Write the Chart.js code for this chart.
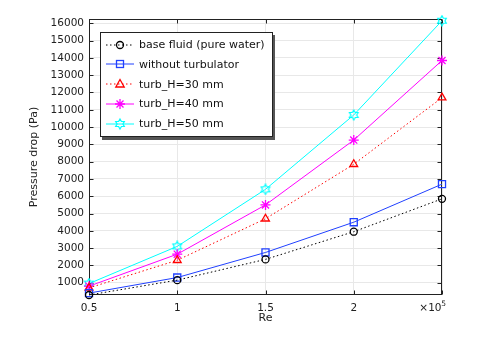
<!DOCTYPE html>
<html><head><meta charset="utf-8">
<script src="https://cdn.jsdelivr.net/npm/chart.js@4/dist/chart.umd.min.js"></script>
<style>
html,body{margin:0;padding:0;background:#fff;}
#wrap{position:relative;width:477px;height:344px;}
canvas{display:block;}
#legend{position:absolute;left:100px;top:32px;width:171px;height:103px;background:#fff;border:1px solid #222;box-shadow:2px 3px 0 #555;font-family:'DejaVu Sans';font-size:11px;color:#111;}
.row{position:absolute;left:0;height:18px;display:flex;align-items:center;white-space:nowrap}
.row svg{margin-left:5px;margin-right:5px;display:block}
</style></head>
<body><div id="wrap"><canvas id="c" width="477" height="344"></canvas><div id="legend"></div></div>
<script>
// ---- data ----
const reValues = [0.5, 1, 1.5, 2, 2.5];            // Re (x 10^5)
const xTickLabels = ['0.5', '1', '1.5', '2', ''];
const yTickValues = [1000,2000,3000,4000,5000,6000,7000,8000,9000,10000,11000,12000,13000,14000,15000,16000];
const seriesNames = ['base fluid (pure water)', 'without turbulator', 'turb_H=30 mm', 'turb_H=40 mm', 'turb_H=50 mm'];
const baseFluid   = [290, 1150, 2350, 3950, 5850];
const noTurb      = [400, 1300, 2750, 4500, 6700];
const turbH30     = [700, 2300, 4700, 7850, 11700];
const turbH40     = [800, 2650, 5500, 9250, 13850];
const turbH50     = [950, 3100, 6400, 10700, 16150];

// ---- styles ----
const colors = ['#000000', '#2040ff', '#ff0000', '#ff00ff', '#00ffff'];
const dashes = [[1.5, 2.5], [], [1.5, 2.5], [], []];
const HEX_R = 5;

function hexagramCanvas(color) {
  const s = 12, c = document.createElement('canvas');
  c.width = s; c.height = s;
  const g = c.getContext('2d');
  const cx = s / 2, cy = s / 2, R = HEX_R, r = R / Math.sqrt(3);
  g.strokeStyle = color; g.lineWidth = 1.2; g.beginPath();
  for (let k = 0; k < 12; k++) {
    const ang = -Math.PI / 2 + k * Math.PI / 6;
    const rad = k % 2 === 0 ? R : r;
    const px = cx + rad * Math.cos(ang), py = cy + rad * Math.sin(ang);
    if (k === 0) g.moveTo(px, py); else g.lineTo(px, py);
  }
  g.closePath(); g.stroke();
  return c;
}
const pointStyles = ['circle', 'rect', 'triangle', 'star', hexagramCanvas('#00ffff')];
const pointRadii = [3.5, 5, 4.5, 5, 5];

const allSeries = [baseFluid, noTurb, turbH30, turbH40, turbH50];
const datasets = allSeries.map((arr, i) => ({
  label: seriesNames[i],
  data: reValues.map((x, j) => ({ x: x, y: arr[j] })),
  borderColor: colors[i],
  backgroundColor: 'rgba(0,0,0,0)',
  borderWidth: 1,
  borderDash: dashes[i],
  pointStyle: pointStyles[i],
  pointRadius: pointRadii[i],
  pointBorderColor: colors[i],
  pointBackgroundColor: 'rgba(0,0,0,0)',
  pointBorderWidth: 1.3,
  tension: 0,
  clip: false
}));

const framePlugin = {
  id: 'frame',
  beforeDatasetsDraw(chart) {
    const { ctx, chartArea: a, scales: { x, y } } = chart;
    ctx.save();
    ctx.strokeStyle = '#222'; ctx.lineWidth = 1;
    ctx.beginPath();
    const L = Math.round(a.left) + 0.5, R = Math.round(a.right) - 0.5, T = Math.round(a.top) + 0.5, B = Math.round(a.bottom) - 0.5;
    x.ticks.forEach(t => {
      const px = Math.round(x.getPixelForValue(t.value)) + 0.5;
      ctx.moveTo(px, B); ctx.lineTo(px, B - 4);
      ctx.moveTo(px, T); ctx.lineTo(px, T + 4);
    });
    y.ticks.forEach(t => {
      const py = Math.round(y.getPixelForValue(t.value)) + 0.5;
      ctx.moveTo(L, py); ctx.lineTo(L + 4, py);
      ctx.moveTo(R, py); ctx.lineTo(R - 4, py);
    });
    ctx.stroke();
    ctx.strokeRect(L, T, R - L, B - T);
    ctx.restore();
  },
  afterDraw(chart) {
    const { ctx, chartArea: a } = chart;
    ctx.save();
    ctx.fillStyle = '#222';
    ctx.textBaseline = 'middle';
    ctx.textAlign = 'right';
    ctx.font = '7.5px "DejaVu Sans"';
    ctx.fillText('5', a.right + 4, a.bottom + 9);
    ctx.font = '10.5px "DejaVu Sans"';
    ctx.fillText('×10', a.right - 0.5, a.bottom + 13);
    ctx.restore();
  }
};

Chart.defaults.font.family = '"DejaVu Sans"';
new Chart(document.getElementById('c'), {
  type: 'line',
  data: { datasets: datasets },
  options: {
    responsive: false,
    animation: false,
    devicePixelRatio: 1,
    layout: { padding: { left: 24, top: 19, right: 35, bottom: 15 } },
    plugins: { legend: { display: false }, tooltip: { enabled: false } },
    scales: {
      x: {
        type: 'linear', min: 0.5, max: 2.5,
        afterBuildTicks: s => { s.ticks = reValues.map(v => ({ value: v })); },
        afterFit: s => { s.height = 34; },
        ticks: { callback: (v, i) => xTickLabels[i], font: { size: 10.5 }, color: '#222', padding: 7, maxRotation: 0, autoSkip: false },
        grid: { color: '#e8e8e8', drawTicks: false },
        border: { display: false },
        title: { display: true, text: 'Re', font: { size: 11 }, color: '#222', padding: { top: 0, bottom: 4 } }
      },
      y: {
        type: 'linear', min: 290, max: 16250,
        afterBuildTicks: s => { s.ticks = yTickValues.map(v => ({ value: v })); },
        afterFit: s => { s.width = 65; },
        ticks: { callback: v => String(v), font: { size: 10.5 }, color: '#222', padding: 5, autoSkip: false },
        grid: { color: '#e8e8e8', drawTicks: false },
        border: { display: false },
        title: { display: true, text: 'Pressure drop (Pa)', font: { size: 11 }, color: '#222', padding: { top: 4, bottom: 0 } }
      }
    }
  },
  plugins: [framePlugin]
});

// ---- legend (HTML) ----
function iconSvg(i) {
  const c = colors[i];
  const dash = dashes[i].length ? ` stroke-dasharray="${dashes[i].join(' ')}"` : '';
  let m = '';
  if (i === 0) m = `<circle cx="14" cy="7" r="3.5" fill="none" stroke="${c}" stroke-width="1.3"/>`;
  if (i === 1) m = `<rect x="10.5" y="3.5" width="7" height="7" fill="none" stroke="${c}" stroke-width="1.3"/>`;
  if (i === 2) m = `<polygon points="14,2.5 18.2,10 9.8,10" fill="none" stroke="${c}" stroke-width="1.3"/>`;
  if (i === 3) m = `<path d="M9,7H19M14,2V12M10.5,3.5L17.5,10.5M17.5,3.5L10.5,10.5" stroke="${c}" stroke-width="1.3"/>`;
  if (i === 4) {
    const R = HEX_R, r = R / Math.sqrt(3); let pts = [];
    for (let k = 0; k < 12; k++) { const a = -Math.PI / 2 + k * Math.PI / 6, rr = k % 2 ? r : R; pts.push((14 + rr * Math.cos(a)).toFixed(2) + ',' + (7 + rr * Math.sin(a)).toFixed(2)); }
    m = `<polygon points="${pts.join(' ')}" fill="none" stroke="${c}" stroke-width="1.2"/>`;
  }
  return `<svg width="28" height="14" viewBox="0 0 28 14"><line x1="0" y1="7" x2="28" y2="7" stroke="${c}" stroke-width="1"${dash}/>${m}</svg>`;
}
const leg = document.getElementById('legend');
seriesNames.forEach((name, i) => {
  const row = document.createElement('div');
  row.className = 'row';
  row.style.top = (11.5 + 19.75 * i - 9) + 'px';
  row.innerHTML = iconSvg(i) + '<span>' + name + '</span>';
  leg.appendChild(row);
});
</script>
</body></html>
